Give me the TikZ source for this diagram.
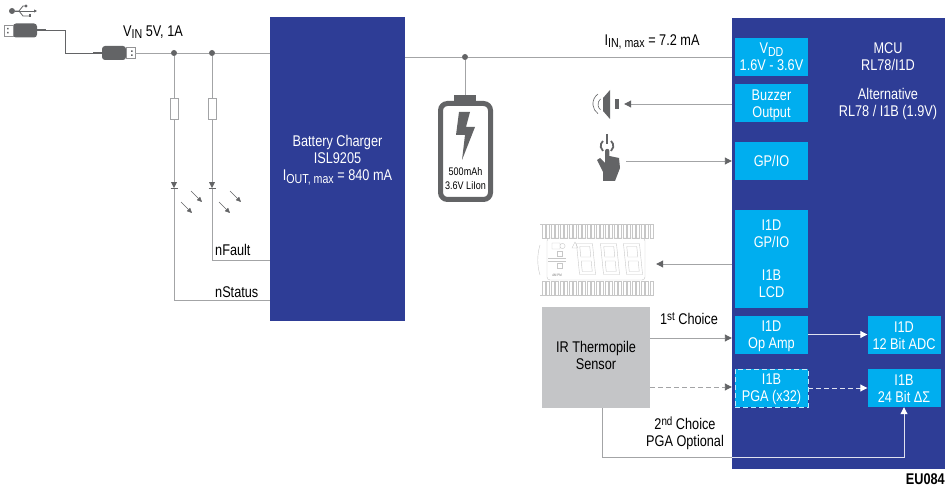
\documentclass[tikz,border=0pt]{standalone}
\usepackage{fontspec}
\setmainfont[FakeStretch=0.82]{Liberation Sans}
\usepackage{xcolor}
\usetikzlibrary{positioning, arrows.meta, shapes.geometric}
\definecolor{mcublue}{HTML}{2E3D96}
\definecolor{boxcyan}{HTML}{00AEEF}
\definecolor{sensorgray}{HTML}{C4C5C7}
\definecolor{wiregray}{HTML}{A3A4A6}
\definecolor{icongray}{HTML}{636466}
\newcommand{\lowtext}[1]{\raisebox{-2.5pt}{\fontsize{13}{13}\selectfont #1}}
\newcommand{\hightext}[1]{\raisebox{4pt}{\fontsize{12}{13}\selectfont #1}}

\begin{document}
\begin{tikzpicture}[x=1pt,y=-1pt,font=\fontsize{15.5}{17}\selectfont]
	\tikzstyle{bigbox}=[rectangle,fill=mcublue,inner sep=0pt]
	\tikzstyle{cyanbox}=[rectangle,fill=boxcyan,minimum width=73pt,minimum height=38pt,inner sep=0pt,text=white,align=center]
	\tikzstyle{wire}=[draw=wiregray,line width=0.9pt]
	\tikzstyle{arrowwire}=[wire,-{Triangle[length=7pt,width=7pt,color=icongray]}]
	\tikzstyle{whitewire}=[draw=white!85!mcublue,line width=0.9pt,-{Triangle[length=7pt,width=7pt,color=white]}]
	\tikzstyle{longdash}=[dash pattern=on 5pt off 3pt]
	\tikzstyle{junction}=[circle,fill=icongray,minimum size=6pt,inner sep=0pt]
	\tikzstyle{resistor}=[rectangle,draw=wiregray,fill=white,minimum width=8pt,minimum height=21pt,inner sep=0pt]
	\tikzstyle{led}=[isosceles triangle,isosceles triangle stretches,shape border rotate=270,fill=icongray,minimum height=6pt,minimum width=6pt,inner sep=0pt]
	\tikzstyle{label}=[inner sep=0pt,align=center]
	\tikzstyle{whitelabel}=[label,text=white]
	\tikzstyle{plugbody}=[rectangle,rounded corners=3pt,fill=icongray,minimum width=24pt,minimum height=14pt,inner sep=0pt]
	\tikzstyle{plughead}=[rectangle,draw=icongray!70,fill=white,minimum width=9pt,minimum height=11pt,inner sep=0pt]
	\tikzstyle{lcdline}=[draw=black!22,line width=0.4pt]
	\useasboundingbox (0,0) rectangle (950,494);

	\node[bigbox,minimum width=135pt,minimum height=304pt](charger) at (337.5,169) {};
	\node[whitelabel](chargertext) at (337.5,160) {Battery Charger\\ISL9205\\I\lowtext{OUT, max} = 840 mA};
	\node[bigbox,minimum width=213pt,minimum height=451pt](mcu) at (838.5,243.5) {};
	\node[whitelabel](mcutext) at (888,57) {MCU\\RL78/I1D};
	\node[whitelabel](alttext) at (888,104) {Alternative\\RL78 / I1B (1.9V)};

	\node[cyanbox](vdd) at (771.5,57) {V\lowtext{DD}\\1.6V - 3.6V};
	\node[cyanbox](buzzer) at (771.5,103) {};
	\node[whitelabel](buzzertext) at (771.5,105) {Buzzer\\Output};
	\node[cyanbox](gpio) at (771.5,161) {GP/IO};
	\node[cyanbox,minimum height=98pt](lcdblock) at (771.5,259) {I1D\\GP/IO\\[16pt]I1B\\LCD};
	\node[cyanbox](opamp) at (771.5,334.5) {};
	\node[whitelabel](opamptext) at (771.5,336) {I1D\\Op Amp};
	\node[cyanbox,draw=white!75!boxcyan,longdash,line width=0.9pt](pga) at (771.5,388) {};
	\node[whitelabel](pgatext) at (771.5,389) {I1B\\PGA (x32)};
	\node[cyanbox](adc) at (904,334.5) {};
	\node[whitelabel](adctext) at (904,336) {I1D\\12 Bit ADC};
	\node[cyanbox](sigma) at (904,388) {};
	\node[whitelabel](sigmatext) at (904,389) {I1B\\24 Bit ΔΣ};
	\node[rectangle,fill=sensorgray,minimum width=108pt,minimum height=101pt,inner sep=0pt](sensor) at (596,357.5) {};
	\node[label](sensortext) at (596,355.5) {IR Thermopile\\Sensor};

	\node[plugbody](plugtop) at (25,30.5) {};
	\node[plughead](headtop) at (8.5,30.5) {};
	\fill[icongray] (7,28) rectangle (8.5,29.5) (7,32) rectangle (8.5,33.5);
	\node[plugbody](plugvin) at (114,53) {};
	\node[plughead](headvin) at (130.5,53) {};
	\fill[icongray] (131,50.5) rectangle (132.5,52) (131,54.5) rectangle (132.5,56);
	\coordinate (cabletop) at (46,30);
	\coordinate (cablevin) at (93,53);
	\coordinate (bendusb) at (65,30);
	\draw[icongray,line width=2.5pt] (plugtop.east |- cabletop) -- (cabletop);
	\draw[icongray,line width=2.5pt] (cablevin) -- (plugvin.west);
	\draw[icongray,line width=0.9pt] (cabletop) -- (bendusb) |- (cablevin);

	\node[junction](usbdot) at (12,11) {};
	\coordinate (usbup) at (26,6);
	\coordinate (usbmid) at (37,11);
	\coordinate (usbdown) at (30,16);
	\draw[icongray,line width=0.8pt,-{Triangle[length=3pt,width=3pt]}] (usbdot) -- (usbmid);
	\draw[icongray,line width=0.8pt] (usbdot) -- (19,11) -- (23,6) -- (usbup);
	\draw[icongray,line width=0.8pt] (19,11) -- (23,16) -- (usbdown);
	\fill[icongray] (usbup) circle (1.6pt);
	\fill[icongray] (28.5,14.5) rectangle (31,17.5);

	\node[junction](jstatus) at (174,53) {};
	\node[junction](jfault) at (212,53) {};
	\node[junction](jbatt) at (465,57) {};
	\node[resistor](rstatus) at (174,108.5) {};
	\node[resistor](rfault) at (212,108.5) {};
	\node[led](ledstatus) at (174,184) {};
	\node[led](ledfault) at (212,184) {};
	\coordinate (status) at (270,300);
	\coordinate (fault) at (270,260);

	\draw[wire] (headvin.east) -- (jstatus) -- (jfault) -- (charger.west |- jfault);
	\draw[wire] (charger.east |- jbatt) -- (jbatt) -- (mcu.west |- jbatt);
	\draw[wire] (jstatus) -- (rstatus);
	\draw[wire] (jfault) -- (rfault);
	\draw[wire] (rstatus) -- (ledstatus);
	\draw[wire] (rfault) -- (ledfault);
	\draw[wire] (ledstatus) |- (status);
	\draw[wire] (ledfault) |- (fault);
	\draw[icongray,line width=0.7pt] ([xshift=-3.5pt]ledstatus.apex) -- ([xshift=3.5pt]ledstatus.apex);
	\draw[icongray,line width=0.7pt] ([xshift=-3.5pt]ledfault.apex) -- ([xshift=3.5pt]ledfault.apex);
	\foreach \lx/\ly in {191/191,181/202,230/191,219/202}
		\draw[icongray,line width=0.5pt,-{Triangle[length=5pt,width=4.5pt]}] (\lx,\ly) -- (\lx+11,\ly+11);

	\node[label](vin) at (153,32) {V\lowtext{IN} 5V, 1A};
	\node[label,anchor=west](nfault) at (215,250) {nFault};
	\node[label,anchor=west](nstatus) at (215,292) {nStatus};
	\node[label](iin) at (652,42) {I\lowtext{IN, max} = 7.2 mA};

	\node[rectangle,draw=icongray,line width=5pt,rounded corners=7pt,minimum width=50pt,minimum height=96pt,inner sep=0pt](battery) at (465.5,151.5) {};
	\node[rectangle,fill=icongray,minimum width=22pt,minimum height=6pt,inner sep=0pt](batcap) at (465,98) {};
	\fill[icongray] (459,112) -- (470,112) -- (466,127) -- (475,127) -- (462,160) -- (465,135) -- (456,135) -- cycle;
	\node[label,font=\fontsize{11}{14}\selectfont](battext) at (465.5,179) {500mAh\\3.6V LiIon};
	\draw[wire] (jbatt) -- (batcap);

	\node[minimum width=32pt,minimum height=30pt,inner sep=0pt](speaker) at (608,104) {};
	\fill[icongray] (603,98) -- (610,90) -- (610,119) -- (603,111) -- cycle;
	\fill[icongray] (615,99) rectangle (619,109);
	\draw[icongray,line width=0.6pt] (600.5,99) arc[start angle=130,end angle=230,radius=7pt];
	\draw[icongray,line width=0.6pt] (598,94) arc[start angle=125,end angle=235,radius=12pt];
	\draw[arrowwire] (mcu.west |- speaker) -- (speaker);

	\node[minimum width=34pt,minimum height=46pt,inner sep=0pt](hand) at (609,158) {};
	\draw[icongray,line width=1.8pt] (611,141) arc[start angle=50,end angle=-50,radius=6.5pt];
	\draw[icongray,line width=1.8pt] (603,141) arc[start angle=130,end angle=230,radius=6.5pt];
	\draw[icongray,line width=1.8pt] (607,134) -- (607,144);
	\fill[icongray] (605,151) arc[start angle=180,end angle=0,radius=2.2pt] -- (609.4,156) -- (619,158) -- (620,168) -- (615,181) -- (603,181) -- (603,172) -- (597,160) -- (600,158) -- (605,163) -- cycle;
	\draw[arrowwire] (hand.east |- gpio) -- (mcu.west |- gpio);

	\node[minimum width=116pt,minimum height=71pt,inner sep=0pt](lcd) at (598,259.5) {};
	\foreach \tx in {542,546.5,...,650}{
		\draw[lcdline] (\tx,224) rectangle (\tx+3,238);
		\draw[lcdline] (\tx,281) rectangle (\tx+3,295);
	}
	\draw[lcdline] (540,224) -- (652,224) (540,295) -- (652,295);
	\draw[lcdline,rounded corners=3pt] (547,238) rectangle (645,280);
	\draw[lcdline] (540,245) .. controls (537,255) and (537,265) .. (540,275);
	\foreach \dx in {586,610,633}{
		\begin{scope}[shift={(\dx,259)},xslant=-0.1]
			\draw[lcdline] (-8,-15.5) rectangle (8,15.5);
			\draw[lcdline] (-5,-12.5) rectangle (5,-2) (-5,2) rectangle (5,12.5);
		\end{scope}
	}
	\draw[lcdline] (552,243) rectangle (560,249) (562.5,246) circle (2.6pt) (572,248) -- (575,242) -- (578,248) -- cycle;
	\draw[lcdline] (548,258) -- (566,258) (548,261) -- (566,261) (557,251) rectangle (562,256) (557,263) rectangle (562,268);
	\node[label,text=black!55,font=\fontsize{3.5}{4}\selectfont](ampm) at (557,275) {AM PM};
	\coordinate (lcdin) at (lcd.east |- 0,264);
	\draw[arrowwire] (mcu.west |- lcdin) -- (lcdin);

	\coordinate (firstout) at (sensor.east |- 0,338);
	\coordinate (secondout) at (sensor.east |- 0,387);
	\coordinate (bendsensor) at (602,457);
	\draw[arrowwire] (firstout) -- (mcu.west |- firstout);
	\draw[arrowwire,longdash] (secondout) -- (mcu.west |- secondout);
	\draw[wire] (bendsensor |- sensor.south) -- (bendsensor) -- (mcu.west |- bendsensor);
	\draw[whitewire] (mcu.west |- bendsensor) -| (sigma.south);
	\draw[whitewire] (opamp.east) -- (adc.west);
	\draw[whitewire,longdash] (pga.east) -- (sigma.west);

	\node[label](firstlabel) at (689,319) {1\hightext{st} Choice};
	\node[label](secondlabel) at (685,433) {2\hightext{nd} Choice\\PGA Optional};
	\node[label,anchor=east,font=\fontsize{15.5}{17}\bfseries\selectfont](ref) at (945,479.5) {EU084};
\end{tikzpicture}
\end{document}
